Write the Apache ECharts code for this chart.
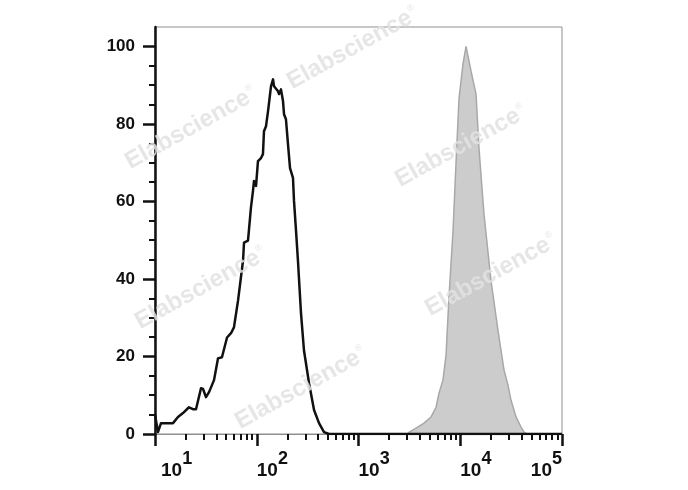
<!DOCTYPE html>
<html>
<head>
<meta charset="utf-8">
<script src="https://cdn.jsdelivr.net/npm/echarts@6/dist/echarts.min.js"></script>
<style>html,body{margin:0;padding:0;background:#fff}#c{width:688px;height:490px}</style>
</head>
<body>
<div id="c"></div>
<script>
// x positions are decades (log10 of fluorescence intensity), y is % of max
var blackX = [1.00, 1.010, 1.029, 1.059, 1.177, 1.226, 1.275, 1.334, 1.373, 1.403, 1.452, 1.472, 1.501, 1.531, 1.580, 1.619, 1.658, 1.708, 1.747, 1.776, 1.816, 1.865, 1.875, 1.914, 1.943, 1.963, 1.973, 1.993, 2.012, 2.042, 2.061, 2.071, 2.091, 2.111, 2.140, 2.160, 2.170, 2.189, 2.209, 2.219, 2.238, 2.258, 2.268, 2.287, 2.307, 2.327, 2.356, 2.366, 2.386, 2.405, 2.435, 2.464, 2.514, 2.563, 2.612, 2.661, 2.710, 5.00];
var blackY = [5.0, 4.9, 0.5, 2.8, 2.8, 4.4, 5.4, 6.9, 6.4, 6.4, 11.8, 11.6, 9.5, 10.8, 13.9, 19.5, 19.8, 24.9, 26.0, 27.5, 34.4, 44.7, 49.4, 49.9, 58.4, 62.7, 65.3, 64.0, 70.4, 71.2, 72.2, 78.1, 79.4, 83.3, 89.7, 91.5, 89.7, 90.2, 88.4, 87.7, 88.9, 85.9, 82.5, 81.2, 74.8, 68.6, 66.1, 60.2, 52.4, 44.7, 31.1, 21.6, 13.1, 6.2, 2.8, 0.5, 0, 0];
var grayX = [3.486, 3.565, 3.644, 3.713, 3.762, 3.791, 3.830, 3.860, 3.889, 3.929, 3.958, 3.988, 4.027, 4.057, 4.106, 4.155, 4.184, 4.233, 4.302, 4.371, 4.430, 4.469, 4.499, 4.548, 4.597, 4.627, 4.656];
var grayY = [0.3, 1.5, 2.8, 4.4, 6.9, 10.5, 13.9, 20.3, 35.2, 52.4, 69.7, 86.6, 95.4, 100, 93.6, 87.7, 73.8, 56.8, 39.6, 26.7, 16.5, 12.6, 8.7, 4.4, 1.8, 0.5, 0];
var xDecades = [1, 2, 3, 4, 5];
var yTicks = [0, 20, 40, 60, 80, 100];
var yMinorTicks = [5, 10, 15, 25, 30, 35, 45, 50, 55, 65, 70, 75, 85, 90, 95];

var xMinorTicks = [];
for (var d = 1; d < 5; d++) {
  for (var k = 2; k <= 9; k++) xMinorTicks.push(d + Math.log10(k));
}
function pairs(xs, ys) { return xs.map(function (x, i) { return [x, ys[i]]; }); }

var chart = echarts.init(document.getElementById('c'));
var wmRich = {
  a: { font: 'bold 24px "Liberation Sans"', fill: 'rgba(226,226,226,0.85)' },
  r: { font: '9px "Liberation Sans"', fill: 'rgba(226,226,226,0.85)', padding: [0, 0, 14, 1] }
};
function wm(x, y) {
  return {
    type: 'text', x: x, y: y, rotation: 29 * Math.PI / 180, z: 100, silent: true,
    style: { text: '{a|Elabscience}{r|®}', rich: wmRich, align: 'center', verticalAlign: 'middle' }
  };
}
chart.setOption({
  animation: false,
  backgroundColor: '#fff',
  grid: { left: 155, right: 126, top: 27, bottom: 56, show: true, borderColor: '#8f8f8f', borderWidth: 1 },
  xAxis: [{
    type: 'value', min: 1, max: 5, interval: 1,
    axisLine: { show: true, lineStyle: { color: '#8f8f8f', width: 1 } },
    axisTick: { show: true, customValues: xDecades, length: 12, lineStyle: { color: '#111', width: 2.5 } },
    splitLine: { show: false },
    axisLabel: {
      customValues: xDecades, margin: 16, align: 'left', alignMaxLabel: 'right',
      formatter: function (v) { return (v === 1 ? '{f|10}' : '{b|10}') + '{s|' + v + '}'; },
      rich: {
        b: { fontFamily: 'Liberation Sans', fontWeight: 'bold', fontSize: 19, color: '#111', padding: [11, 0, 0, 0] },
        f: { fontFamily: 'Liberation Sans', fontWeight: 'bold', fontSize: 19, color: '#111', padding: [11, 0, 0, 6] },
        s: { fontFamily: 'Liberation Sans', fontWeight: 'bold', fontSize: 18, color: '#111', padding: [0, 0, 11, 0] }
      }
    }
  }, {
    type: 'value', min: 1, max: 5, position: 'bottom', gridIndex: 0,
    axisLine: { show: false }, axisLabel: { show: false }, splitLine: { show: false },
    axisTick: { show: true, customValues: xMinorTicks, length: 6, lineStyle: { color: '#111', width: 2 } }
  }],
  yAxis: [{
    type: 'value', min: 0, max: 105,
    axisLine: { show: true, lineStyle: { color: '#111', width: 2.5 } },
    axisTick: { show: true, customValues: yTicks, length: 12, lineStyle: { color: '#111', width: 2.5 } },
    splitLine: { show: false },
    axisLabel: { customValues: yTicks, margin: 20, fontFamily: 'Liberation Sans', fontWeight: 'bold', fontSize: 17, color: '#111' }
  }, {
    type: 'value', min: 0, max: 105, position: 'left', gridIndex: 0,
    axisLine: { show: false }, axisLabel: { show: false }, splitLine: { show: false },
    axisTick: { show: true, customValues: yMinorTicks, length: 6, lineStyle: { color: '#111', width: 2 } }
  }],
  series: [{
    type: 'line', xAxisIndex: 0, yAxisIndex: 0, data: pairs(grayX, grayY), symbol: 'none',
    lineStyle: { color: '#a8a8a8', width: 1.5 }, areaStyle: { color: '#cccccc', opacity: 1 }, z: 2
  }, {
    type: 'line', xAxisIndex: 0, yAxisIndex: 0, data: pairs(blackX, blackY), symbol: 'none',
    lineStyle: { color: '#111', width: 2.5, join: 'round' }, z: 3
  }],
  graphic: [wm(353, 48), wm(191, 128), wm(461, 146), wm(201, 288), wm(491, 275), wm(301, 388)]
});
</script>
</body>
</html>
